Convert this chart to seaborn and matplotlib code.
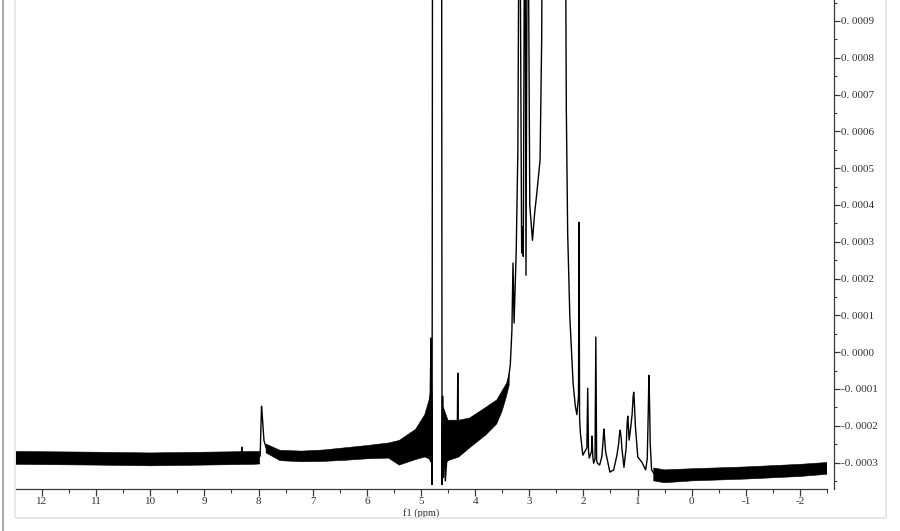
import matplotlib
matplotlib.use("Agg")
import matplotlib.pyplot as plt
import numpy as np
import pandas as pd
import seaborn as sns
from matplotlib.lines import Line2D
from matplotlib.patches import Rectangle
from matplotlib.ticker import FuncFormatter, MultipleLocator

nan = np.nan

# 1H NMR trace, chemical shift (ppm) and intensity in units of 1e-4
TRACE_PPM = [
    12.50, 11.00, 10.00, 9.00, 8.32, 8.31, 8.30, 8.00, 7.97, 7.945, 7.93, 7.90,
    7.86, 7.80, 7.60, 7.20, 6.80, 6.40, 6.00, 5.60, 5.45, 5.20, 5.00, 4.90,
    4.85, 4.83, 4.815, 4.805, 4.795, 4.785, 4.62, 4.61, 4.60, 4.585, 4.57, 4.55,
    4.50, 4.33, 4.32, 4.31, 4.10, 3.90, 3.70, 3.55, 3.45, 3.40, 3.35, 3.32,
    3.30, 3.28, 3.24, 3.21, 3.18, 3.14, 3.125, 3.11, 3.08, 3.06, 3.03, 2.99,
    2.94, 2.90, 2.86, 2.80, 2.77, 2.75, 2.34, 2.315, 2.29, 2.25, 2.19, 2.15,
    2.12, 2.09, 2.08, 2.07, 2.055, 2.01, 1.935, 1.92, 1.905, 1.89, 1.85, 1.84,
    1.825, 1.81, 1.785, 1.77, 1.755, 1.74, 1.70, 1.66, 1.64, 1.625, 1.62, 1.61,
    1.59, 1.51, 1.44, 1.38, 1.35, 1.33, 1.32, 1.30, 1.29, 1.25, 1.21, 1.19,
    1.18, 1.165, 1.155, 1.13, 1.10, 1.08, 1.07, 1.06, 1.04, 0.995, 0.92, 0.85,
    0.82, 0.80, 0.79, 0.78, 0.765, 0.74, 0.68, 0.50, 0.00, -1.00, -2.00, -2.50,
]
TRACE_INT = [
    -2.88, -2.90, -2.92, -2.90, -2.88, -2.58, -2.88, -2.88, -2.82, -1.47, -1.75, -2.40,
    -2.60, -2.72, -2.81, -2.84, -2.82, -2.77, -2.72, -2.68, -2.70, -2.55, -2.30, -1.95,
    -1.80, -1.40, 0.38, -1.60, -3.60, 15.0, 15.0, -3.60, -1.20, -3.40, -2.00, -3.50,
    -2.45, -2.35, -0.57, -2.35, -2.17, -1.98, -1.71, -1.36, -1.09, -0.90, -0.35, 0.60,
    2.42, 0.79, 2.77, 5.50, 15.0, 2.70, 3.40, 2.60, 15.0, 2.09, 15.0, 4.00,
    3.04, 3.78, 4.32, 5.22, 8.50, 15.0, 15.0, 6.60, 3.23, 0.95, -0.84, -1.45,
    -1.70, -1.20, 3.53, -1.80, -2.20, -2.80, -2.60, -0.98, -2.70, -2.88, -2.70, -2.28,
    -2.85, -3.02, -2.90, 0.41, -2.95, -3.02, -3.07, -2.85, -2.50, -2.15, -2.09, -2.30,
    -2.70, -3.26, -3.20, -2.80, -2.50, -2.20, -2.12, -2.35, -2.60, -3.13, -2.60, -1.90,
    -1.74, -2.10, -2.39, -2.10, -1.70, -1.20, -1.09, -1.30, -2.00, -2.85, -2.99, -3.20,
    -2.90, -1.50, -0.63, -1.20, -2.50, -3.20, -3.34, -3.37, -3.32, -3.29, -3.21, -3.15,
]

# envelope of the baseline noise (same units), nan separates the segments
NOISE_PPM = [
    12.5, 11.0, 10.0, 9.0, 8.1, 7.98, nan,
    7.86, 7.6, 7.2, 6.8, 6.4, 6.0, 5.6, 5.4, 5.1, 4.93, 4.85, 4.815, nan,
    4.585, 4.5, 4.3, 4.1, 3.8, 3.6, 3.5, 3.42, 3.37, nan,
    0.70, 0.5, 0.0, -1.0, -2.0, -2.5,
]
NOISE_HI = [
    -2.70, -2.72, -2.74, -2.72, -2.70, -2.70, nan,
    -2.50, -2.67, -2.69, -2.66, -2.60, -2.54, -2.47, -2.40, -2.10, -1.70, -1.30, -1.00, nan,
    -1.50, -1.85, -1.85, -1.79, -1.50, -1.30, -1.05, -0.85, -0.60, nan,
    -3.15, -3.20, -3.17, -3.12, -3.05, -3.00,
]
NOISE_LO = [
    -3.05, -3.07, -3.09, -3.07, -3.05, -3.04, nan,
    -2.74, -2.95, -2.98, -2.97, -2.94, -2.90, -2.88, -3.07, -2.92, -2.85, -2.90, -3.00, nan,
    -3.10, -2.95, -2.85, -2.60, -2.25, -1.95, -1.60, -1.20, -0.90, nan,
    -3.50, -3.55, -3.50, -3.45, -3.38, -3.32,
]

SCALE = 1e-4

sns.set_style("white")
plt.rcParams["font.family"] = ["Liberation Serif", "DejaVu Serif"]
plt.rcParams["axes.unicode_minus"] = False

df = pd.DataFrame({"ppm": TRACE_PPM, "intensity": np.array(TRACE_INT) * SCALE})

fig = plt.figure(figsize=(9, 5.31), dpi=100)
ax = fig.add_axes([16 / 900, 1 - 489 / 531, (827 - 16) / 900, 489 / 531])

ax.fill_between(
    NOISE_PPM,
    np.array(NOISE_LO) * SCALE,
    np.array(NOISE_HI) * SCALE,
    color="black",
    linewidth=0.4,
    edgecolor="black",
)
sns.lineplot(
    data=df,
    x="ppm",
    y="intensity",
    sort=False,
    estimator=None,
    color="black",
    linewidth=1.0,
    ax=ax,
)

ax.set_xlim(12.48, -2.5)
ax.set_ylim(-0.000372, 0.000957)

ax.xaxis.set_major_locator(MultipleLocator(1))
ax.xaxis.set_minor_locator(MultipleLocator(0.5))
ax.yaxis.set_major_locator(MultipleLocator(0.0001))
ax.yaxis.set_minor_locator(MultipleLocator(0.00005))


def fmt_y(v, pos):
    if abs(v) < 1e-9:
        v = 0.0
    return f"{v:.4f}".replace(".", ". ")


ax.yaxis.set_major_formatter(FuncFormatter(fmt_y))
ax.yaxis.tick_right()
ax.yaxis.set_label_position("right")

for side in ["left", "top"]:
    ax.spines[side].set_visible(False)
ax.spines["right"].set_position(("outward", 5))
for side in ["right", "bottom"]:
    ax.spines[side].set_color("#3a3a3a")
    ax.spines[side].set_linewidth(0.9)

ax.tick_params(axis="x", which="major", direction="out", length=5, width=0.9,
               color="#3a3a3a", labelsize=8, labelcolor="#333333", pad=0.5, bottom=True)
ax.tick_params(axis="x", which="minor", direction="out", length=3, width=0.8,
               color="#3a3a3a", bottom=True)
ax.tick_params(axis="y", which="major", direction="out", length=4, width=0.9,
               color="#3a3a3a", labelsize=8, labelcolor="#333333", pad=1, right=True, left=False)
ax.tick_params(axis="y", which="minor", direction="out", length=2.5, width=0.8,
               color="#3a3a3a", right=True, left=False)

ax.set_xlabel("f1 (ppm)", fontsize=7.5, color="#333333")
ax.xaxis.set_label_coords(0.5, -19 / 489)
ax.set_ylabel("")
ax.grid(False)

# light frame of the exported panel
fig.patches.append(Rectangle((15 / 900, 13 / 531), (886 - 15) / 900, 1.0,
                             transform=fig.transFigure, fill=False,
                             edgecolor="#e4e4e4", linewidth=1.2))
fig.lines.append(Line2D([2.5 / 900, 2.5 / 900], [0, 1], transform=fig.transFigure,
                        color="#9a9a9a", linewidth=1.2))

fig.savefig("out.png", dpi=100)
